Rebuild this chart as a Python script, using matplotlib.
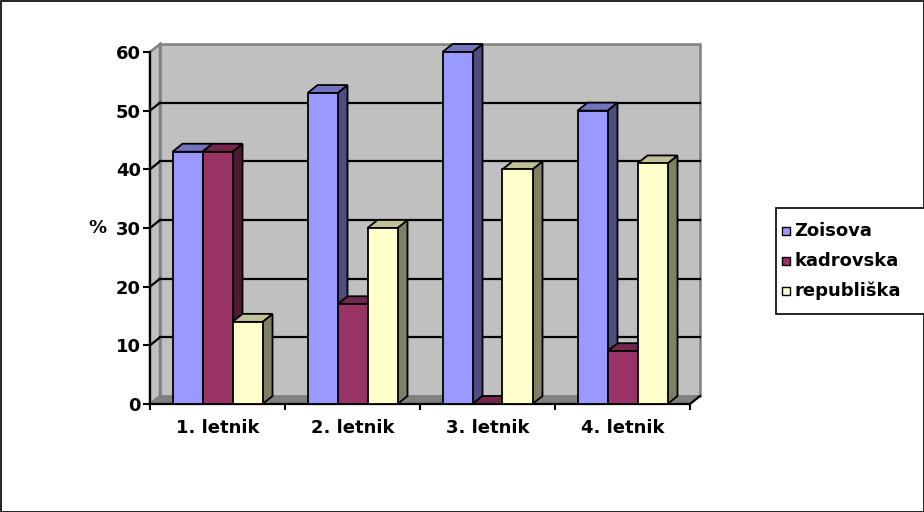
import matplotlib
matplotlib.use('Agg')
import matplotlib.pyplot as plt
from matplotlib.patches import Polygon, Rectangle
from matplotlib.lines import Line2D

categories = ['1. letnik', '2. letnik', '3. letnik', '4. letnik']
series_names = ['Zoisova', 'kadrovska', 'republiška']
zoisova = [43, 53, 60, 50]
kadrovska = [43, 17, 0, 9]
republiska = [14, 30, 40, 41]
y_ticks = [0, 10, 20, 30, 40, 50, 60]
y_label = '%'

series = [zoisova, kadrovska, republiska]
front_colors = ['#9999FF', '#993366', '#FFFFCC']
top_colors = ['#7373C0', '#73264D', '#C0C099']
side_colors = ['#4D4D80', '#4D1A33', '#808066']

plt.rcParams['font.family'] = ['DejaVu Sans']
plt.rcParams['font.weight'] = 'bold'
FS = 13

W, H = 924, 512
fig = plt.figure(figsize=(W / 100, H / 100), dpi=100)

# overlay axes in pixel coordinates for frame, legend, y-label
ov = fig.add_axes([0, 0, 1, 1], zorder=0)
ov.set_xlim(0, W)
ov.set_ylim(H, 0)
ov.axis('off')
ov.add_patch(Rectangle((0.5, 0.5), W - 1, H - 1, fill=False, ec='black', lw=1.2))

ax_l, ax_r, ax_b, ax_t = 150, 690, 404, 52
ymax = y_ticks[-1]
ax = fig.add_axes([ax_l / W, 1 - ax_b / H, (ax_r - ax_l) / W, (ax_b - ax_t) / H], zorder=1)
n = len(categories)
ax.set_xlim(0, n)
ax.set_ylim(0, ymax)
ax.patch.set_visible(False)
for s in ax.spines.values():
    s.set_visible(False)

px_x = (ax_r - ax_l) / n
px_y = (ax_b - ax_t) / ymax
ddx = 10 / px_x
ddy = 8 / px_y

wall_c = '#C0C0C0'
edge_g = '#808080'
# back wall
ax.add_patch(Polygon([(ddx, ddy), (n + ddx, ddy), (n + ddx, ymax + ddy), (ddx, ymax + ddy)],
                     closed=True, fc=wall_c, ec=edge_g, lw=1.8, clip_on=False, zorder=1))
# side wall
ax.add_patch(Polygon([(0, 0), (ddx, ddy), (ddx, ymax + ddy), (0, ymax)],
                     closed=True, fc=wall_c, ec=edge_g, lw=1.8, clip_on=False, zorder=1))
# floor
ax.add_patch(Polygon([(0, 0), (n, 0), (n + ddx, ddy), (ddx, ddy)],
                     closed=True, fc='#808080', ec=edge_g, lw=1.0, clip_on=False, zorder=1))
# gridlines
for v in y_ticks[1:-1]:
    ax.add_line(Line2D([ddx, n + ddx], [v + ddy, v + ddy], color='black', lw=1.6, clip_on=False, zorder=2))
    ax.add_line(Line2D([0, ddx], [v, v + ddy], color='black', lw=1.6, clip_on=False, zorder=2))

# axes lines
ax.add_line(Line2D([0, 0], [0, ymax], color='black', lw=1.6, clip_on=False, zorder=2))
ax.add_line(Line2D([0, n, n + ddx], [0, 0, ddy], color='black', lw=1.6, clip_on=False, zorder=2))

# bars
bw = 1 / 4.5
off = (1 - 3 * bw) / 2
z = 3
for i in range(n):
    for j, vals in enumerate(series):
        v = vals[i]
        x0 = i + off + j * bw
        x1 = x0 + bw
        kw = dict(closed=True, ec='black', lw=1.3, clip_on=False, joinstyle='miter')
        ax.add_patch(Polygon([(x1, 0), (x1 + ddx, ddy), (x1 + ddx, v + ddy), (x1, v)],
                             fc=side_colors[j], zorder=z, **kw))
        ax.add_patch(Polygon([(x0, v), (x0 + ddx, v + ddy), (x1 + ddx, v + ddy), (x1, v)],
                             fc=top_colors[j], zorder=z, **kw))
        ax.add_patch(Polygon([(x0, 0), (x1, 0), (x1, v), (x0, v)],
                             fc=front_colors[j], zorder=z, **kw))
        z += 0.01

# ticks
ax.set_yticks(y_ticks)
ax.set_yticklabels([str(t) for t in y_ticks], fontsize=FS, fontweight='bold')
ax.tick_params(axis='y', direction='out', length=5, width=1.5, pad=1.5, color='black')
ax.set_xticks([i + 0.5 for i in range(n)])
ax.set_xticklabels(categories, fontsize=FS, fontweight='bold')
ax.tick_params(axis='x', which='major', length=0, pad=10.5)
ax.set_xticks(list(range(n + 1)), minor=True)
ax.tick_params(axis='x', which='minor', direction='out', length=4.5, width=1.5, color='black')

# y label
ov.text(97, 228, y_label, ha='center', va='center', fontsize=FS, fontweight='bold')

# legend
ov.add_patch(Rectangle((775.5, 207.5), 200, 106, fill=True, fc='white', ec='black', lw=1.2))
leg_y = [230.5, 261, 290.5]
for j, name in enumerate(series_names):
    yc = leg_y[j]
    ov.add_patch(Rectangle((781.5, yc - 4), 8, 8, fc=front_colors[j], ec='black', lw=1.0))
    ov.text(794, yc + 0.5, name, ha='left', va='center', fontsize=FS, fontweight='bold')

fig.savefig('out.png', dpi=100)
